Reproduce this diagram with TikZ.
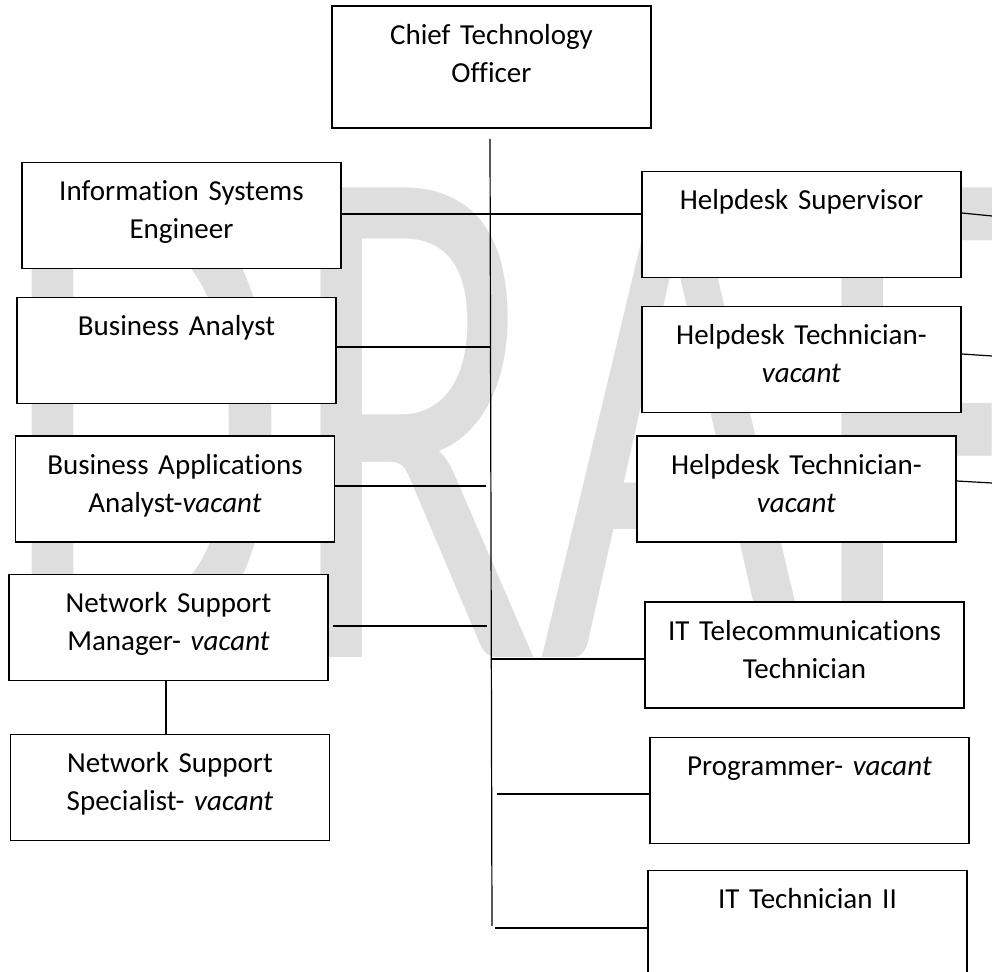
\documentclass[tikz,border=0pt]{standalone}
\usepackage{fontspec}
\setmainfont{Carlito}[Ligatures=NoCommon]
\usepackage{xcolor}
\definecolor{draftgray}{RGB}{222,222,222}

\begin{document}
\begin{tikzpicture}[x=0.5pt,y=-0.5pt]
    \def\bw{159.5pt}
    \def\bh{53pt}

    \tikzstyle{postbox}=[draw=black, line width=0.7pt, fill=white, minimum width=\bw, minimum height=\bh, inner sep=0pt]
    \tikzstyle{postname}=[anchor=base, yshift=-19.5pt, text width=\bw, align=center, inner sep=0pt, font=\fontsize{14.5pt}{19pt}\selectfont]
    \tikzstyle{wmark}=[anchor=base west, inner sep=0pt, text=draftgray, font=\fontsize{366pt}{366pt}\selectfont]

    \useasboundingbox (0,0) rectangle (992,972);
    \node[wmark] (draft) at (0,658) {\scalebox{0.637}[1]{DRAFT}};

    \node[postbox, minimum height=61pt, label={[postname]north:{Chief Technology\\Officer}}] (cto) at (491.5,67) {};
    \node[postbox, label={[postname]north:{Information Systems\\Engineer}}] (ise) at (181.5,215.5) {};
    \node[postbox, label={[postname]north:{Business Analyst}}] (ba) at (176.5,350.5) {};
    \node[postbox, label={[postname]north:{Business Applications\\Analyst-\textit{vacant}}}] (baa) at (175,489) {};
    \node[postbox, label={[postname]north:{Network Support\\Manager- \textit{vacant}}}] (nsm) at (168.5,627.5) {};
    \node[postbox, label={[postname]north:{Network Support\\Specialist- \textit{vacant}}}] (nss) at (170,787.5) {};
    \node[postbox, label={[postname]north:{Helpdesk Supervisor}}] (hs) at (801.5,224.5) {};
    \node[postbox, label={[postname]north:{Helpdesk Technician-\\\textit{vacant}}}] (ht1) at (801.5,359.5) {};
    \node[postbox, label={[postname]north:{Helpdesk Technician-\\\textit{vacant}}}] (ht2) at (796.5,489) {};
    \node[postbox, label={[postname]north:{IT Telecommunications\\Technician}}] (itt) at (804.5,655) {};
    \node[postbox, label={[postname]north:{Programmer- \textit{vacant}}}] (prg) at (809.5,790.5) {};
    \node[postbox, label={[postname]north:{IT Technician II}}] (it2) at (807.5,923.5) {};

    \coordinate (trunktop) at (490,139);
    \coordinate (trunkend) at (492,926);
    \coordinate (baaend) at (486,486);
    \coordinate (nsmstart) at (333,626);
    \coordinate (nsmend) at (487,626);
    \coordinate (prgstart) at (497,794);
    \coordinate (it2start) at (495,928);
    \coordinate (hsout) at (992,216);
    \coordinate (ht1out) at (992,356);
    \coordinate (ht2out) at (992,483);

    \tikzstyle{link} = [draw=black, line width=0.6pt]

          \draw [link] (trunktop) -- (trunkend);
          \draw [link] (ise.east |- 0,214) -- (hs.west |- 0,214);
          \draw [link] (ba.east |- 0,347) -- (491,347);
          \draw [link] (baa.east |- baaend) -- (baaend);
          \draw [link] (nsmstart) -- (nsmend);
          \draw [link] (166,681) -- (nss.north -| 166,0);
          \draw [link] (491.5,659) -- (itt.west |- 0,659);
          \draw [link] (prgstart) -- (prg.west |- prgstart);
          \draw [link] (it2start) -- (it2.west |- it2start);
          \draw [link] (hs.east |- 0,213) -- (hsout);
          \draw [link] (ht1.east |- 0,354) -- (ht1out);
          \draw [link] (ht2.east |- 0,481) -- (ht2out);

  \end{tikzpicture}
\end{document}
